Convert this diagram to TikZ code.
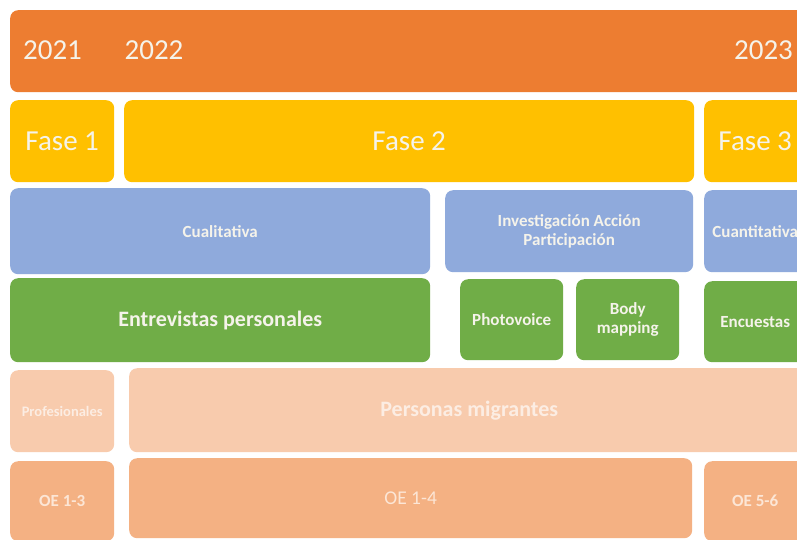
\documentclass[tikz,border=0pt]{standalone}
\usepackage{fontspec}
\setmainfont{Carlito}
\definecolor{cOrange}{HTML}{ED7D31}
\definecolor{cYellow}{HTML}{FFC000}
\definecolor{cBlue}{HTML}{8FAADC}
\definecolor{cGreen}{HTML}{70AD47}
\definecolor{cPeachL}{HTML}{F8CBAD}
\definecolor{cPeach}{HTML}{F4B183}
\definecolor{tLight}{HTML}{F5F3EA}
\definecolor{tPeachL}{HTML}{FCEDE3}
\definecolor{tPeach}{HTML}{FCE6D6}
\begin{document}
\begin{tikzpicture}[x=1pt,y=-1pt,
  box/.style={rounded corners=8pt, inner sep=0pt, anchor=north west, align=center, text=tLight},
  big/.style={font=\fontsize{29}{35}\selectfont, text=tLight},
  lab/.style={font=\bfseries\fontsize{17}{19.5}\selectfont},
  labL/.style={font=\bfseries\fontsize{22}{26}\selectfont}]
\useasboundingbox (0,0) rectangle (797,539);
\fill[white] (0,0) rectangle (797,539);
\clip (0,0) rectangle (797,539);
% row 1
\node[box, fill=cOrange, minimum width=800pt, minimum height=82pt] (years) at (10,10) {};
\node[big, anchor=center] (y21) at (52.5,50) {2021};
\node[big, anchor=center] (y22) at (154,50) {2022};
\node[big, anchor=center] (y23) at (763.5,50) {2023};
% row 2
\node[box, fill=cYellow, minimum width=104pt, minimum height=82pt, big] (f1) at (10,100) {Fase 1};
\node[box, fill=cYellow, minimum width=570pt, minimum height=82pt, big] (f2) at (124,100) {Fase 2};
\node[box, fill=cYellow, minimum width=102pt, minimum height=82pt, big] (f3) at (704,100) {Fase 3};
% row 3
\node[box, fill=cBlue, minimum width=420pt, minimum height=86pt, lab] (cual) at (10,188) {Cualitativa};
\node[box, fill=cBlue, minimum width=248pt, minimum height=82pt, lab] (iap) at (445,190) {Investigación Acción\\Participación};
\node[box, fill=cBlue, minimum width=102pt, minimum height=82pt, lab] (cuan) at (704,190) {Cuantitativa};
% row 4
\node[box, fill=cGreen, minimum width=420pt, minimum height=84pt, labL] (ent) at (10,278) {Entrevistas personales};
\node[box, fill=cGreen, minimum width=103pt, minimum height=81pt, lab] (photo) at (460,279) {Photovoice};
\node[box, fill=cGreen, minimum width=103pt, minimum height=81pt, lab] (body) at (576,279) {Body\\mapping};
\node[box, fill=cGreen, minimum width=102pt, minimum height=81pt, lab] (enc) at (704,281) {Encuestas};
% row 5
\node[box, fill=cPeachL, minimum width=104pt, minimum height=82pt, text=tPeachL, font=\bfseries\fontsize{14.5}{17}\selectfont] (prof) at (10,370) {Profesionales};
\node[box, fill=cPeachL, minimum width=680pt, minimum height=84pt, text=tPeachL, labL] (pers) at (129,368) {Personas migrantes};
% row 6
\node[box, fill=cPeach, minimum width=104pt, minimum height=80pt, text=tPeach, lab] (oe13) at (10,461) {OE 1-3};
\node[box, fill=cPeach, minimum width=563pt, minimum height=80pt, text=tPeach, font=\fontsize{19.5}{22}\selectfont] (oe14) at (129,458) {OE 1-4};
\node[box, fill=cPeach, minimum width=102pt, minimum height=80pt, text=tPeach, lab] (oe56) at (704,461) {OE 5-6};
\end{tikzpicture}
\end{document}
